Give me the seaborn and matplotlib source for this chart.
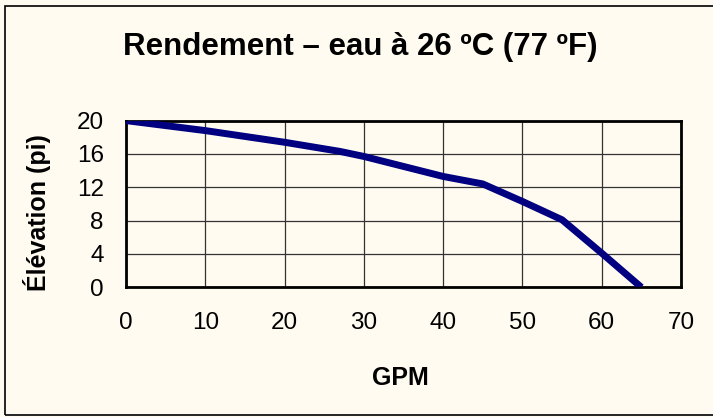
import numpy as np
import pandas as pd
import seaborn as sns
import matplotlib.pyplot as plt
from matplotlib.patches import Rectangle

# values
gpm = [0, 10, 20, 27, 30, 40, 45, 50, 55, 60, 65]
elevation = [20, 18.8, 17.4, 16.3, 15.7, 13.3, 12.4, 10.3, 8.1, 4.1, 0]
x_ticks = [0, 10, 20, 30, 40, 50, 60, 70]
y_ticks = [0, 4, 8, 12, 16, 20]

df = pd.DataFrame({'GPM': gpm, 'Elevation': elevation})

sns.set_theme(style="white")
plt.rcParams['font.family'] = ['Liberation Sans', 'DejaVu Sans']

bg = '#FFFBF0'
fig = plt.figure(figsize=(7.13, 4.17), dpi=100, facecolor=bg)
ax = fig.add_axes([126 / 713, 1 - 287.3 / 417, 555 / 713, 166.7 / 417])
ax.set_facecolor(bg)

sns.lineplot(data=df, x='GPM', y='Elevation', ax=ax, color='#000080',
             linewidth=5, solid_capstyle='butt', zorder=3)

ax.set_xlim(0, 70)
ax.set_ylim(0, 20)
ax.set_xticks(x_ticks)
ax.set_yticks(y_ticks)
ax.grid(True, color='#333333', linewidth=0.9)
for s in ax.spines.values():
    s.set_color('black')
    s.set_linewidth(2)
ax.tick_params(axis='both', direction='out', length=7, width=1, color='black',
               labelsize=17.5, labelcolor='black')
ax.tick_params(axis='x', pad=11)
ax.tick_params(axis='y', pad=9)

ax.set_xlabel('GPM', fontsize=18, fontweight='bold', color='black')
ax.set_ylabel('Élévation (pi)', fontsize=18, fontweight='bold', color='black')
ax.xaxis.set_label_coords(0.495, -0.47)
ax.yaxis.set_label_coords(-0.135, 0.45)

fig.text(0.505, 1 - 47 / 417, 'Rendement – eau à 26 ºC (77 ºF)', ha='center', va='center',
         fontsize=22.5, fontweight='bold', color='black')

# outer chart border (right edge falls outside the picture)
fig.patches.append(Rectangle((5 / 713, 2 / 417), 1.2, 1 - 8 / 417, transform=fig.transFigure,
                             fill=False, edgecolor='black', linewidth=1.2))

plt.savefig('out.png', dpi=100, facecolor=bg)
